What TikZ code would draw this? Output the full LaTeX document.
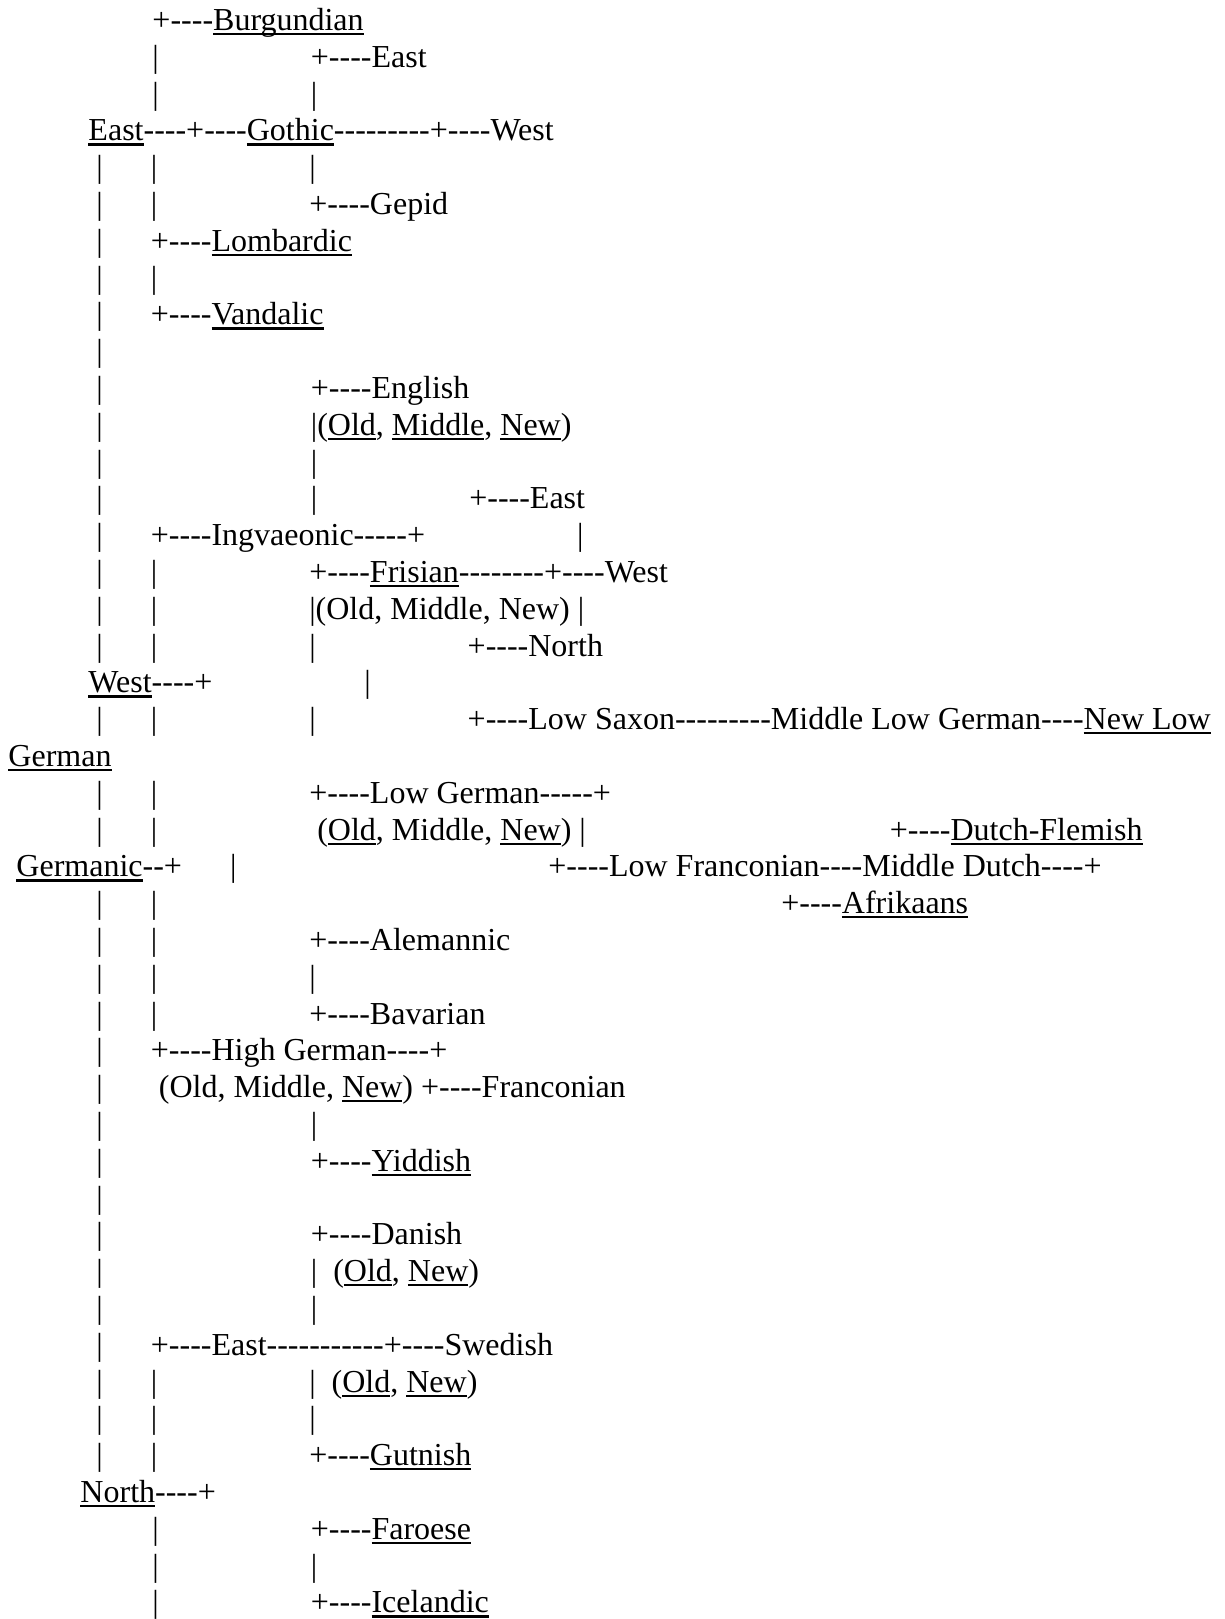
\documentclass[tikz,border=0pt]{standalone}
\usepackage{fontspec}
\setmainfont{Liberation Serif}[Ligatures=TeXOff]
\newdimen\spw \spw=8pt
\newcommand\sk[1]{\hspace*{#1\spw}}
\newcommand\ul[1]{\setbox0\hbox{#1}\rlap{\rule[-4.6pt]{\wd0}{2.2pt}}\box0}
\tikzset{
  ln/.style={anchor=base west, inner sep=0pt, outer sep=0pt,
    font=\fontsize{32pt}{36.8pt}\selectfont\frenchspacing}
}
\begin{document}
\begin{tikzpicture}[x=1pt,y=1pt]
\fill[white] (0,0) rectangle (1224,-1619);
\useasboundingbox (0,0) rectangle (1224,-1619);
\def\lx{8.5}
\newcommand\Ln[3]{\node[ln] (#1) at (\lx, {-(30.5+(#2-1)*36.8)}) {#3};}
\Ln{l1}{1}{\sk{18}+----\ul{Burgundian}}
\Ln{l2}{2}{\sk{18}|\sk{19}+----East}
\Ln{l3}{3}{\sk{18}|\sk{19}|}
\Ln{l4}{4}{\sk{10}\ul{East}----+----\ul{Gothic}---------+----West}
\Ln{l5}{5}{\sk{11}|\sk{6}|\sk{19}|}
\Ln{l6}{6}{\sk{11}|\sk{6}|\sk{19}+----Gepid}
\Ln{l7}{7}{\sk{11}|\sk{6}+----\ul{Lombardic}}
\Ln{l8}{8}{\sk{11}|\sk{6}|}
\Ln{l9}{9}{\sk{11}|\sk{6}+----\ul{Vandalic}}
\Ln{l10}{10}{\sk{11}|}
\Ln{l11}{11}{\sk{11}|\sk{26}+----English}
\Ln{l12}{12}{\sk{11}|\sk{26}|(\ul{Old}, \ul{Middle}, \ul{New})}
\Ln{l13}{13}{\sk{11}|\sk{26}|}
\Ln{l14}{14}{\sk{11}|\sk{26}|\sk{19}+----East}
\Ln{l15}{15}{\sk{11}|\sk{6}+----Ingvaeonic-----+\sk{19}|}
\Ln{l16}{16}{\sk{11}|\sk{6}|\sk{19}+----\ul{Frisian}--------+----West}
\Ln{l17}{17}{\sk{11}|\sk{6}|\sk{19}|(Old, Middle, New)\sk{1}|}
\Ln{l18}{18}{\sk{11}|\sk{6}|\sk{19}|\sk{19}+----North}
\Ln{l19}{19}{\sk{10}\ul{West}----+\sk{19}|}
\Ln{l20}{20}{\sk{11}|\sk{6}|\sk{19}|\sk{19}+----Low Saxon---------Middle Low German----\ul{New Low}}
\Ln{l21}{21}{\ul{German}}
\Ln{l22}{22}{\sk{11}|\sk{6}|\sk{19}+----Low German-----+}
\Ln{l23}{23}{\sk{11}|\sk{6}|\sk{20}(\ul{Old}, Middle, \ul{New})\sk{1}|\sk{38}+----\ul{Dutch-Flemish}}
\Ln{l24}{24}{\sk{1}\ul{Germanic}--+\sk{6}|\sk{39}+----Low Franconian----Middle Dutch----+}
\Ln{l25}{25}{\sk{11}|\sk{6}|\sk{78}+----\ul{Afrikaans}}
\Ln{l26}{26}{\sk{11}|\sk{6}|\sk{19}+----Alemannic}
\Ln{l27}{27}{\sk{11}|\sk{6}|\sk{19}|}
\Ln{l28}{28}{\sk{11}|\sk{6}|\sk{19}+----Bavarian}
\Ln{l29}{29}{\sk{11}|\sk{6}+----High German----+}
\Ln{l30}{30}{\sk{11}|\sk{7}(Old, Middle, \ul{New})\sk{1}+----Franconian}
\Ln{l31}{31}{\sk{11}|\sk{26}|}
\Ln{l32}{32}{\sk{11}|\sk{26}+----\ul{Yiddish}}
\Ln{l33}{33}{\sk{11}|}
\Ln{l34}{34}{\sk{11}|\sk{26}+----Danish}
\Ln{l35}{35}{\sk{11}|\sk{26}|\sk{2}(\ul{Old}, \ul{New})}
\Ln{l36}{36}{\sk{11}|\sk{26}|}
\Ln{l37}{37}{\sk{11}|\sk{6}+----East-----------+----Swedish}
\Ln{l38}{38}{\sk{11}|\sk{6}|\sk{19}|\sk{2}(\ul{Old}, \ul{New})}
\Ln{l39}{39}{\sk{11}|\sk{6}|\sk{19}|}
\Ln{l40}{40}{\sk{11}|\sk{6}|\sk{19}+----\ul{Gutnish}}
\Ln{l41}{41}{\sk{9}\ul{North}----+}
\Ln{l42}{42}{\sk{18}|\sk{19}+----\ul{Faroese}}
\Ln{l43}{43}{\sk{18}|\sk{19}|}
\Ln{l44}{44}{\sk{18}|\sk{19}+----\ul{Icelandic}}
\end{tikzpicture}
\end{document}
